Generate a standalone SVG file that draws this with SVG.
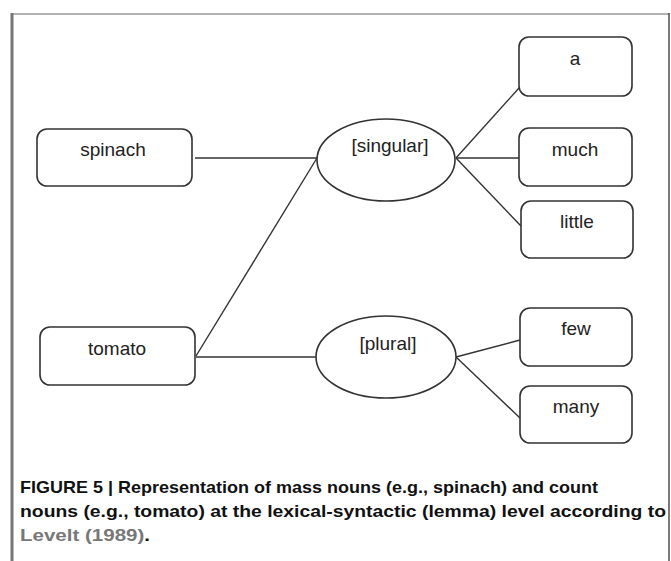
<svg xmlns="http://www.w3.org/2000/svg" width="671" height="561" viewBox="0 0 671 561">
<style>
.box{fill:#fff;stroke:#333;stroke-width:1.6}
.ell{fill:#fff;stroke:#333;stroke-width:1.6}
.lbl{font-family:"Liberation Sans",Arial,sans-serif;font-size:19px;fill:#222;text-anchor:middle}
.con line{stroke:#333;stroke-width:1.4}
.cap{font-family:"Liberation Sans",Arial,sans-serif;font-size:17px;font-weight:bold;fill:#111}
</style>
<rect width="671" height="561" fill="#fff"/>
<g id="frame">
<line x1="12" y1="14" x2="669" y2="14" stroke="#999" stroke-width="1.5"/>
<line x1="12" y1="13" x2="12" y2="561" stroke="#777" stroke-width="3"/>
<line x1="669" y1="13" x2="669" y2="561" stroke="#222" stroke-width="1.2"/>
</g>
<g class="con" id="connectors">
<line x1="195" y1="158" x2="317" y2="158"/>
<line x1="196" y1="356" x2="317" y2="158"/>
<line x1="196" y1="357" x2="316" y2="357"/>
<line x1="456" y1="158" x2="519" y2="88"/>
<line x1="456" y1="158" x2="519" y2="158"/>
<line x1="456" y1="158" x2="521" y2="226"/>
<line x1="456" y1="357" x2="520" y2="340"/>
<line x1="456" y1="357" x2="520" y2="418"/>
</g>
<g id="spinach"><rect class="box" x="37" y="129" width="155" height="57" rx="10"/><text class="lbl" x="113" y="156">spinach</text></g>
<g id="tomato"><rect class="box" x="40" y="327" width="155" height="58" rx="10"/><text class="lbl" x="117" y="355">tomato</text></g>
<g id="singular"><ellipse class="ell" cx="386" cy="160" rx="69" ry="41"/><text class="lbl" x="390" y="152">[singular]</text></g>
<g id="plural"><ellipse class="ell" cx="386" cy="357" rx="70" ry="41"/><text class="lbl" x="388" y="350">[plural]</text></g>
<g id="a"><rect class="box" x="519" y="37" width="113" height="59" rx="10"/><text class="lbl" x="575" y="65">a</text></g>
<g id="much"><rect class="box" x="519" y="128" width="113" height="58" rx="10"/><text class="lbl" x="575" y="156">much</text></g>
<g id="little"><rect class="box" x="521" y="201" width="112" height="57" rx="10"/><text class="lbl" x="577" y="228">little</text></g>
<g id="few"><rect class="box" x="520" y="308" width="112" height="58" rx="10"/><text class="lbl" x="576" y="335">few</text></g>
<g id="many"><rect class="box" x="520" y="386" width="112" height="57" rx="10"/><text class="lbl" x="576" y="413">many</text></g>
<g id="caption">
<text class="cap" x="20" y="493" textLength="578" lengthAdjust="spacingAndGlyphs">FIGURE 5 | Representation of mass nouns (e.g., spinach) and count</text>
<text class="cap" x="20" y="517" textLength="646" lengthAdjust="spacingAndGlyphs">nouns (e.g., tomato) at the lexical-syntactic (lemma) level according to</text>
<text class="cap" x="20" y="541" textLength="130" lengthAdjust="spacingAndGlyphs"><tspan fill="#777">Levelt (1989)</tspan>.</text>
</g>
</svg>
